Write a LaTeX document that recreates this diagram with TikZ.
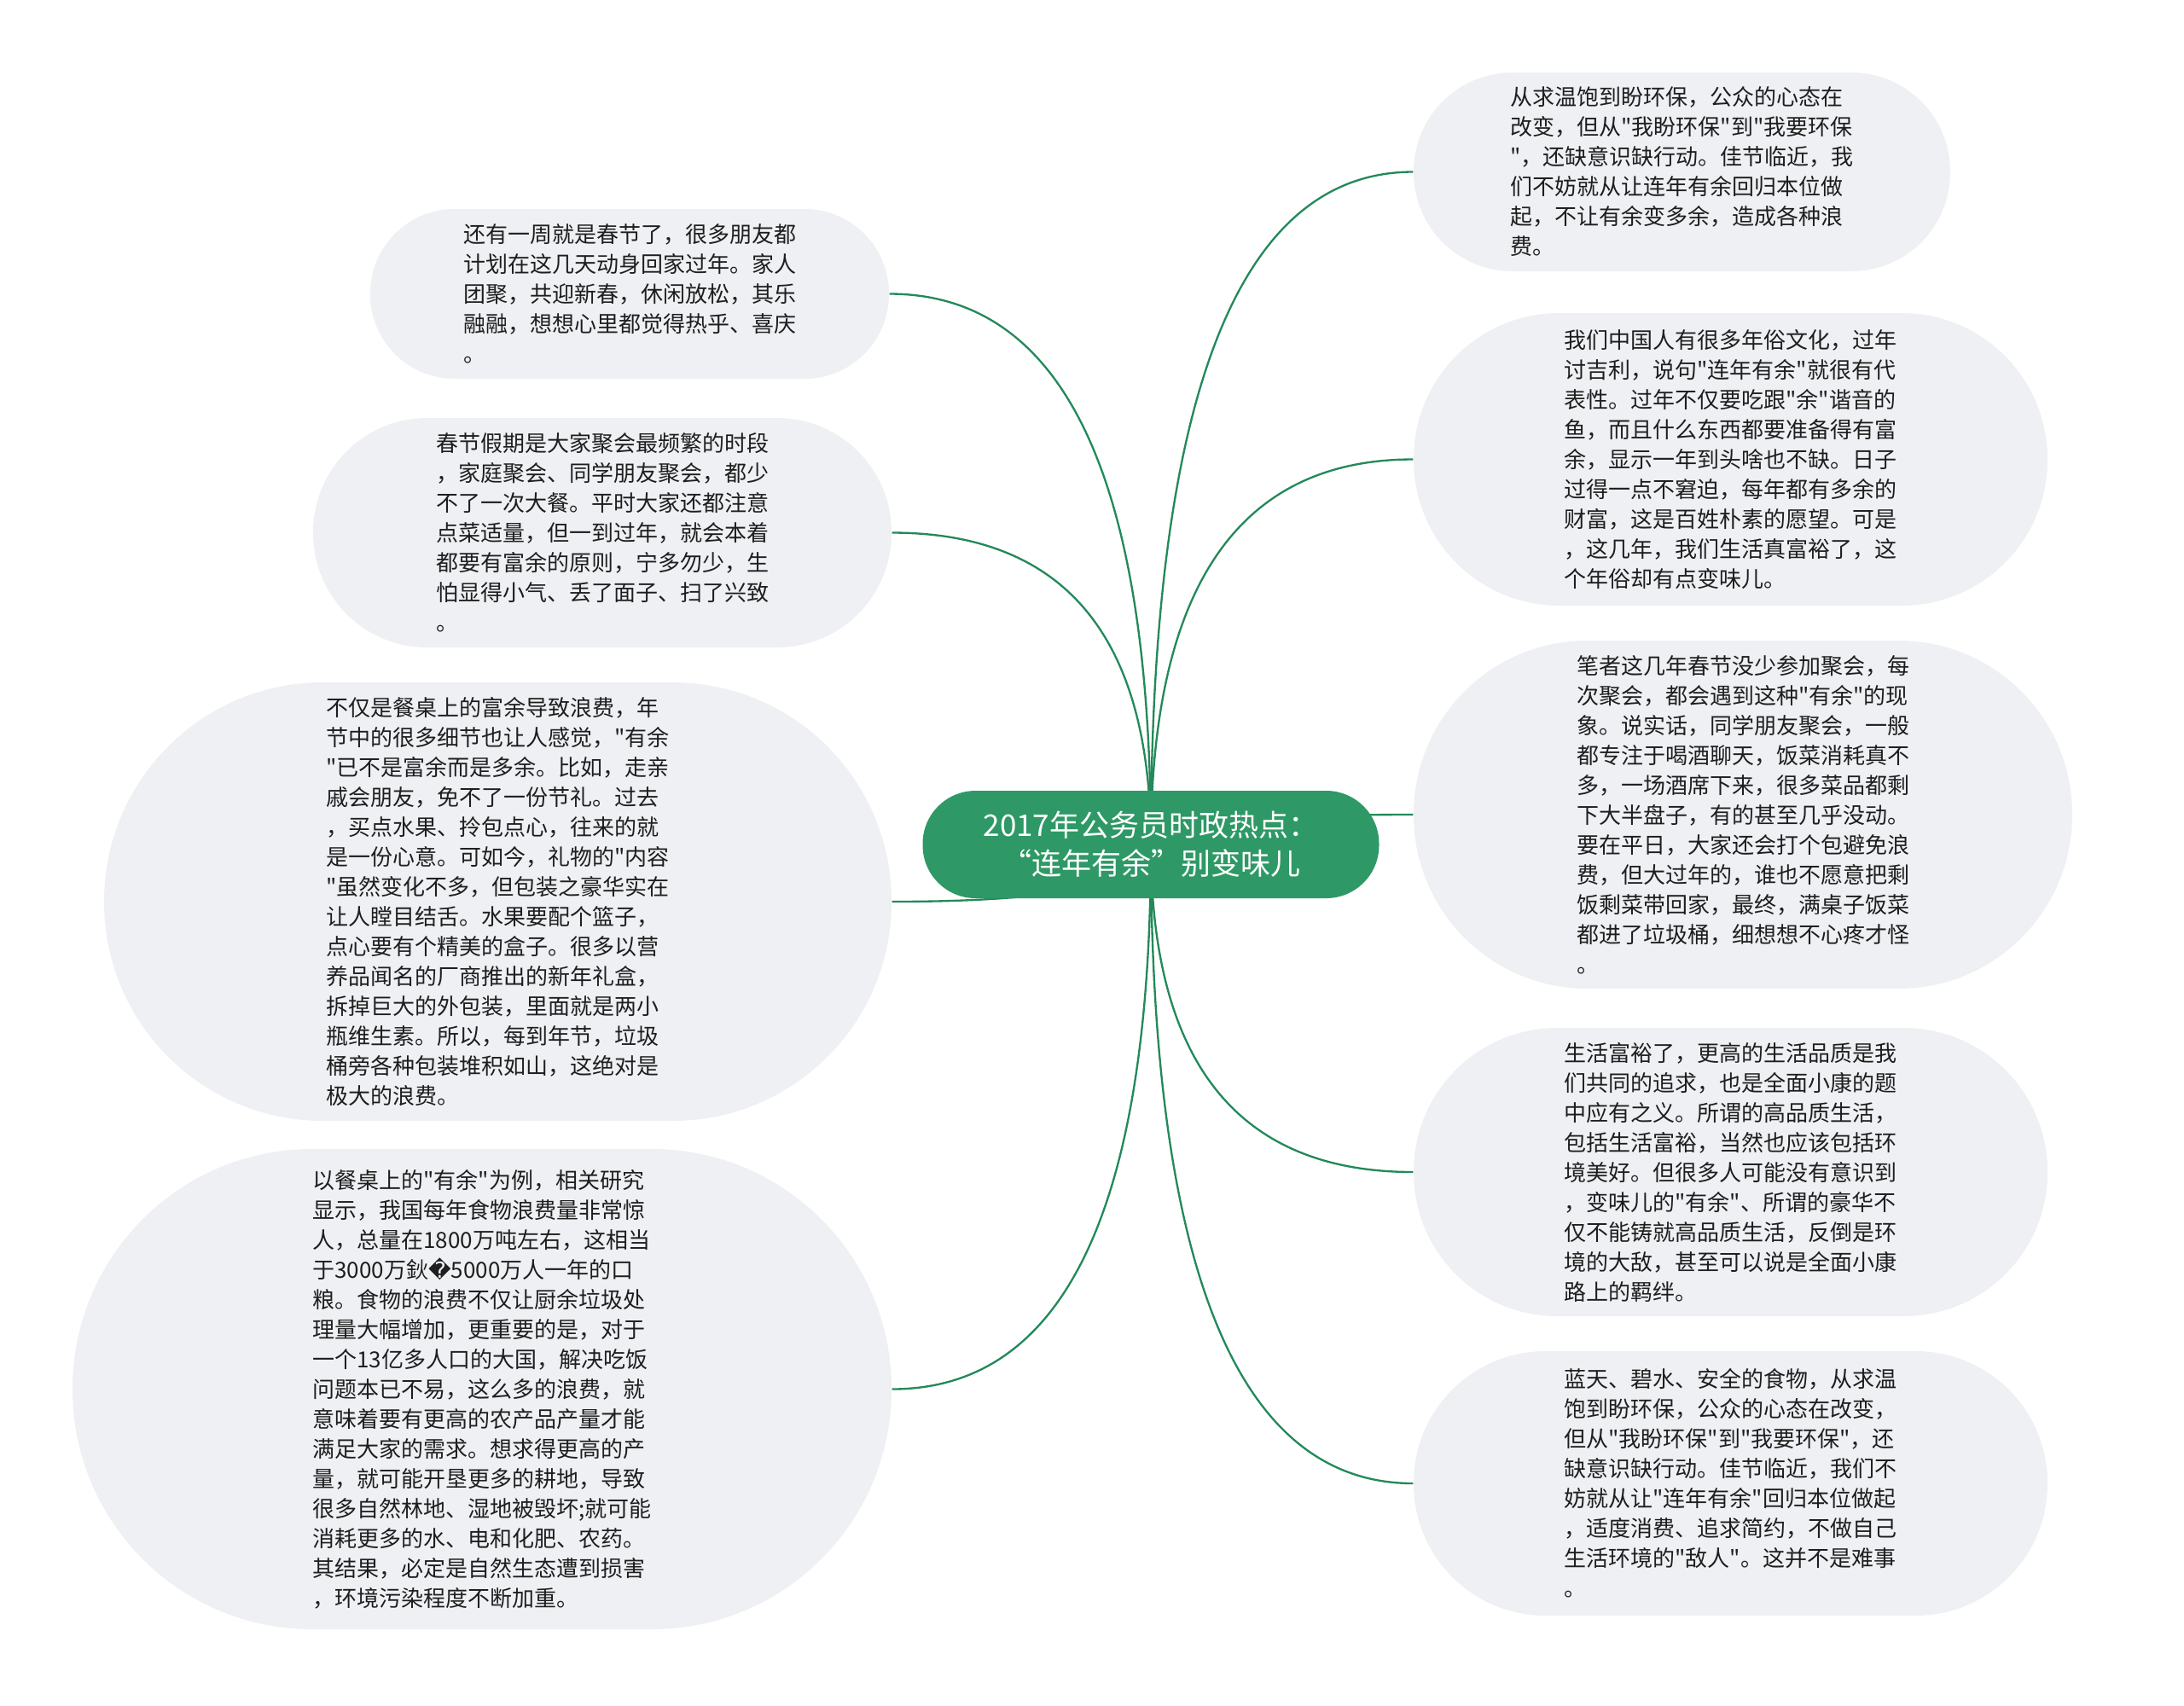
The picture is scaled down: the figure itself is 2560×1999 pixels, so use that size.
\documentclass[tikz,border=0pt]{standalone}
\usepackage{fontspec}
\newfontfamily\cjk{Noto Sans CJK SC}
\newfontfamily\symfont{DejaVu Sans}
\usepackage{xcolor}
\usepackage{tikz}
\usetikzlibrary{calc, backgrounds}

\definecolor{rootgreen}{HTML}{2E9966}
\definecolor{linkgreen}{HTML}{23895A}
\definecolor{leafgray}{HTML}{EEF0F3}
\definecolor{inkgray}{HTML}{1E1E1E}

\begin{document}
\begin{tikzpicture}[
  x=0.3pt, y=-0.3pt,
  root/.style={fill=rootgreen, text=white, inner sep=0pt, align=center,
    font=\cjk\fontsize{10.5}{13.5}\selectfont,
    minimum width=535*0.3pt, minimum height=126*0.3pt, rounded corners=62*0.3pt},
  leaf/.style 2 args={fill=leafgray, text=inkgray, inner sep=0pt, align=left,
    font=\cjk\fontsize{7.8}{10.5}\selectfont,
    minimum width=#1*0.3pt, minimum height=#2*0.3pt, rounded corners=#2*0.15pt-0.2pt},
  link/.style={draw=linkgreen, line width=0.7pt},
]
\useasboundingbox (0,0) rectangle (2560,1999);

% === ROOT ===
\node[root] (root) at (1349,990) {2017年公务员时政热点：\\“连年有余”别变味儿};

% === LEFT BRANCHES ===
\node[leaf={608}{199}] (l_reunion) at (738,344.5) {还有一周就是春节了，很多朋友都\\
计划在这几天动身回家过年。家人\\
团聚，共迎新春，休闲放松，其乐\\
融融，想想心里都觉得热乎、喜庆\\
。};

\node[leaf={678}{269}] (l_dinner) at (706,624.5) {春节假期是大家聚会最频繁的时段\\
，家庭聚会、同学朋友聚会，都少\\
不了一次大餐。平时大家还都注意\\
点菜适量，但一到过年，就会本着\\
都要有富余的原则，宁多勿少，生\\
怕显得小气、丢了面子、扫了兴致\\
。};

\node[leaf={923}{514}] (l_gifts) at (583.5,1057) {不仅是餐桌上的富余导致浪费，年\\
节中的很多细节也让人感觉，"有余\\
"已不是富余而是多余。比如，走亲\\
戚会朋友，免不了一份节礼。过去\\
，买点水果、拎包点心，往来的就\\
是一份心意。可如今，礼物的"内容\\
"虽然变化不多，但包装之豪华实在\\
让人瞠目结舌。水果要配个篮子，\\
点心要有个精美的盒子。很多以营\\
养品闻名的厂商推出的新年礼盒，\\
拆掉巨大的外包装，里面就是两小\\
瓶维生素。所以，每到年节，垃圾\\
桶旁各种包装堆积如山，这绝对是\\
极大的浪费。};

\node[leaf={960}{563}] (l_food) at (565,1628.5) {以餐桌上的"有余"为例，相关研究\\
显示，我国每年食物浪费量非常惊\\
人，总量在1800万吨左右，这相当\\
于3000万鈥{\symfont �}5000万人一年的口\\
粮。食物的浪费不仅让厨余垃圾处\\
理量大幅增加，更重要的是，对于\\
一个13亿多人口的大国，解决吃饭\\
问题本已不易，这么多的浪费，就\\
意味着要有更高的农产品产量才能\\
满足大家的需求。想求得更高的产\\
量，就可能开垦更多的耕地，导致\\
很多自然林地、湿地被毁坏;就可能\\
消耗更多的水、电和化肥、农药。\\
其结果，必定是自然生态遭到损害\\
，环境污染程度不断加重。};

% === RIGHT BRANCHES ===
\node[leaf={629}{233}] (r_green) at (1971.5,201.5) {从求温饱到盼环保，公众的心态在\\
改变，但从"我盼环保"到"我要环保\\
"，还缺意识缺行动。佳节临近，我\\
们不妨就从让连年有余回归本位做\\
起，不让有余变多余，造成各种浪\\
费。};

\node[leaf={743}{343}] (r_custom) at (2028.5,538.5) {我们中国人有很多年俗文化，过年\\
讨吉利，说句"连年有余"就很有代\\
表性。过年不仅要吃跟"余"谐音的\\
鱼，而且什么东西都要准备得有富\\
余，显示一年到头啥也不缺。日子\\
过得一点不窘迫，每年都有多余的\\
财富，这是百姓朴素的愿望。可是\\
，这几年，我们生活真富裕了，这\\
个年俗却有点变味儿。};

\node[leaf={772}{408}] (r_party) at (2043,955) {笔者这几年春节没少参加聚会，每\\
次聚会，都会遇到这种"有余"的现\\
象。说实话，同学朋友聚会，一般\\
都专注于喝酒聊天，饭菜消耗真不\\
多，一场酒席下来，很多菜品都剩\\
下大半盘子，有的甚至几乎没动。\\
要在平日，大家还会打个包避免浪\\
费，但大过年的，谁也不愿意把剩\\
饭剩菜带回家，最终，满桌子饭菜\\
都进了垃圾桶，细想想不心疼才怪\\
。};

\node[leaf={743}{338}] (r_quality) at (2028.5,1374) {生活富裕了，更高的生活品质是我\\
们共同的追求，也是全面小康的题\\
中应有之义。所谓的高品质生活，\\
包括生活富裕，当然也应该包括环\\
境美好。但很多人可能没有意识到\\
，变味儿的"有余"、所谓的豪华不\\
仅不能铸就高品质生活，反倒是环\\
境的大敌，甚至可以说是全面小康\\
路上的羁绊。};

\node[leaf={743}{310}] (r_sky) at (2028.5,1739) {蓝天、碧水、安全的食物，从求温\\
饱到盼环保，公众的心态在改变，\\
但从"我盼环保"到"我要环保"，还\\
缺意识缺行动。佳节临近，我们不\\
妨就从让"连年有余"回归本位做起\\
，适度消费、追求简约，不做自己\\
生活环境的"敌人"。这并不是难事\\
。};

% === CONNECTORS ===
\begin{scope}[on background layer]
\foreach \n/\a in {l_reunion/east, l_dinner/east, l_gifts/east, l_food/east,
    r_green/west, r_custom/west, r_party/west, r_quality/west, r_sky/west} {
  \coordinate (bend) at (root.center |- \n.\a);
  \draw[link] (root.center) .. controls ($(root.center)!2/3!(bend)$)
    and ($(\n.\a)!2/3!(bend)$) .. (\n.\a);
}
\end{scope}

\end{tikzpicture}
\end{document}
